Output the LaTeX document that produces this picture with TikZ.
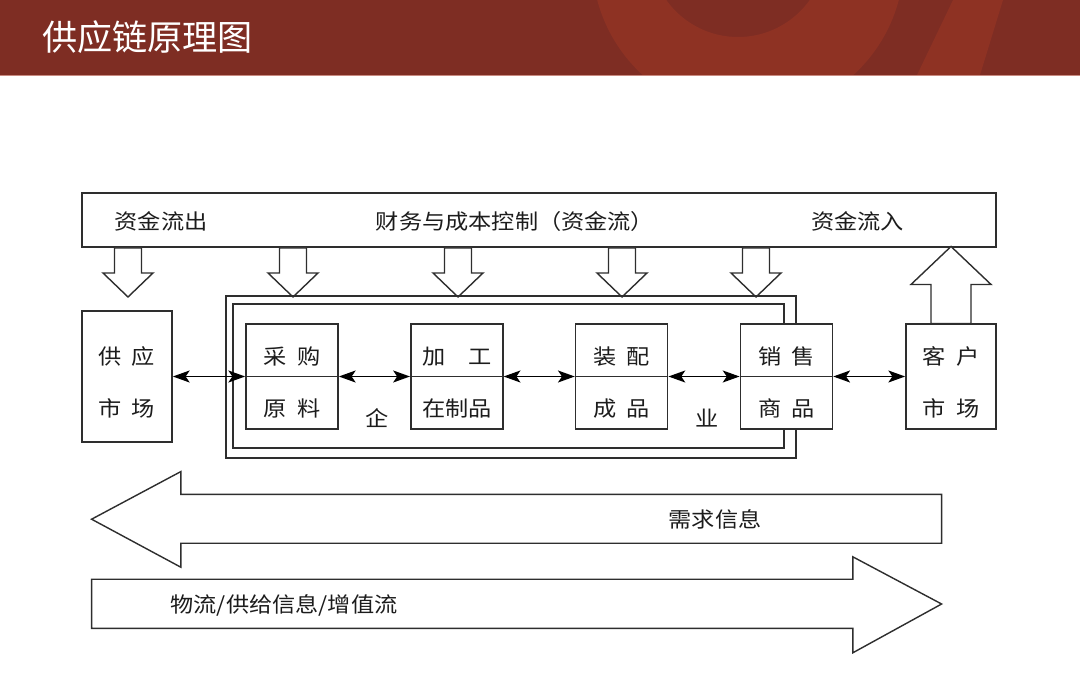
\documentclass[tikz,border=0pt]{standalone}
\usepackage{fontspec}
\usepackage{xcolor}
\usetikzlibrary{shapes, shapes.multipart, arrows.meta, calc, positioning}
\newfontfamily\fuenteCJK{Noto Sans CJK SC}[FakeStretch=1.1]
\newfontfamily\fuenteTitulo{Noto Sans CJK SC}
\newcommand{\puntal}{\rule[-0.2875cm]{0pt}{1.2625cm}}
\definecolor{rojoBarra}{HTML}{7E2D23}
\definecolor{rojoAdorno}{HTML}{8E3223}
\definecolor{rojoLinea}{HTML}{C98A80}
\definecolor{grisBorde}{HTML}{2E2E2E}
\definecolor{negroTexto}{HTML}{1C1C1C}

\begin{document}
\begin{tikzpicture}[
  % Estilos de nodos
  cajaFinanzas/.style={
    rectangle, draw=grisBorde, line width=1.2pt,
    minimum width=22.85cm, minimum height=1.35cm, inner sep=0pt
  },
  cajaEtapa/.style={
    rectangle split, rectangle split parts=2,
    draw=grisBorde, fill=white, line width=1.2pt,
    minimum width=2.3cm, inner xsep=0pt, inner ysep=0pt,
    font=\fuenteCJK\fontsize{15}{18}\selectfont, text=negroTexto
  },
  cajaMercado/.style={
    cajaEtapa, rectangle split draw splits=false, minimum width=2.25cm
  },
  texto/.style={
    font=\fuenteCJK\fontsize{15}{18}\selectfont, text=negroTexto,
    inner sep=0pt
  },
  marco/.style={
    draw=grisBorde, line width=1.2pt
  },
  % Estilos de flechas
  flechaDoble/.style={
    {Stealth[length=0.42cm, width=0.3cm, inset=0.1cm]}-{Stealth[length=0.42cm, width=0.3cm, inset=0.1cm]},
    line width=1pt, draw=black
  },
  flechaBloque/.style={
    draw=grisBorde, line width=1pt, fill=white, line join=miter
  }
]

\useasboundingbox (0,0) rectangle (27,-16.925);

% --- Barra de titulo ---
\fill[rojoBarra] (0,0) rectangle (27,-1.875);
\begin{scope}
  \clip (0,0) rectangle (27,-1.875);
  \fill[rojoAdorno, even odd rule] (18.7,1.0) circle (3.9cm) (18.45,1.275) circle (2.2cm);
  \fill[rojoAdorno] (22.925,-1.875) -- (24.5,-1.875) -- (25.075,0) -- (23.825,0) -- cycle;
\end{scope}
\draw[rojoLinea, line width=0.6pt] (0,-1.89) -- (27,-1.89);
\node[font=\fuenteTitulo\fontsize{25}{29}\selectfont, text=white, inner sep=0pt]
  (titulo) at (3.69,-0.94) {供应链原理图};

% --- Caja de finanzas ---
\node[cajaFinanzas] (finanzas) at (13.475,-5.5) {};
\node[texto] (salida)  at (4.025,-5.525)  {资金流出};
\node[texto] (control) at (12.875,-5.525) {财务与成本控制（资金流）};
\node[texto] (entrada) at (21.44,-5.525)  {资金流入};

% --- Flechas de bloque hacia abajo ---
\draw[flechaBloque] (2.8625,-6.2) -- ++(0.675,0) -- ++(0,-0.625) -- ++(0.2875,0)
  -- ++(-0.625,-0.6) -- ++(-0.625,0.6) -- ++(0.2875,0) -- cycle;
\draw[flechaBloque] (6.9875,-6.2) -- ++(0.675,0) -- ++(0,-0.625) -- ++(0.2875,0)
  -- ++(-0.625,-0.6) -- ++(-0.625,0.6) -- ++(0.2875,0) -- cycle;
\draw[flechaBloque] (11.1125,-6.2) -- ++(0.675,0) -- ++(0,-0.625) -- ++(0.2875,0)
  -- ++(-0.625,-0.6) -- ++(-0.625,0.6) -- ++(0.2875,0) -- cycle;
\draw[flechaBloque] (15.2125,-6.2) -- ++(0.675,0) -- ++(0,-0.625) -- ++(0.2875,0)
  -- ++(-0.625,-0.6) -- ++(-0.625,0.6) -- ++(0.2875,0) -- cycle;
\draw[flechaBloque] (18.5625,-6.2) -- ++(0.675,0) -- ++(0,-0.625) -- ++(0.2875,0)
  -- ++(-0.625,-0.6) -- ++(-0.625,0.6) -- ++(0.2875,0) -- cycle;

% --- Marco de la empresa ---
\draw[marco] (5.65,-7.4) rectangle (19.9,-11.45);
\draw[marco] (5.825,-7.6) rectangle (19.6,-11.2);

% --- Mercados y etapas ---
\node[cajaMercado] (mercadoProv) at (3.175,-9.4125)
  {\rule[-0.2875cm]{0pt}{1.5875cm}供\hspace{0.25cm}应\nodepart{two}\rule[-0.6125cm]{0pt}{1.5875cm}市\hspace{0.25cm}场};
\node[cajaEtapa] (compra)  at (7.3,-9.4125)   {\puntal 采\hspace{0.25cm}购\nodepart{two}\puntal 原\hspace{0.25cm}料};
\node[cajaEtapa] (proceso) at (11.42,-9.4125) {\puntal 加　工\nodepart{two}\puntal 在制品};
\node[cajaEtapa] (montaje) at (15.54,-9.4125) {\puntal 装\hspace{0.25cm}配\nodepart{two}\puntal 成\hspace{0.25cm}品};
\node[cajaEtapa] (venta)   at (19.66,-9.4125) {\puntal 销\hspace{0.25cm}售\nodepart{two}\puntal 商\hspace{0.25cm}品};
\node[cajaMercado] (cliente) at (23.775,-9.4125)
  {\puntal 客\hspace{0.25cm}户\nodepart{two}\puntal 市\hspace{0.25cm}场};

\node[texto] (empresaA) at (9.425,-10.45)  {企};
\node[texto] (empresaB) at (17.675,-10.45) {业};

% --- Flecha de bloque hacia arriba ---
\draw[flechaBloque] ([xshift=-0.5cm]cliente.north) -- ++(0,0.975) -- ++(-0.5,0)
  -- ++(1,0.95) -- ++(1,-0.95) -- ++(-0.5,0) -- ++(0,-0.975) -- cycle;

% --- Flechas dobles entre etapas ---
\draw[flechaDoble] (mercadoProv.east) -- (compra.west);
\draw[flechaDoble] (compra.east)  -- (proceso.west);
\draw[flechaDoble] (proceso.east) -- (montaje.west);
\draw[flechaDoble] (montaje.east) -- (venta.west);
\draw[flechaDoble] (venta.east)   -- (cliente.west);

% --- Flechas grandes de informacion ---
\draw[flechaBloque] (2.29,-12.98) -- (4.52,-11.79) -- (4.52,-12.36) -- (23.54,-12.36)
  -- (23.54,-13.58) -- (4.52,-13.58) -- (4.52,-14.18) -- cycle;
\node[texto] (demanda) at (17.875,-12.975) {需求信息};

\draw[flechaBloque] (2.29,-14.48) -- (21.32,-14.48) -- (21.32,-13.92) -- (23.54,-15.1)
  -- (21.32,-16.32) -- (21.32,-15.71) -- (2.29,-15.71) -- cycle;
\node[texto] (logistica) at (7.1,-15.125) {物流/供给信息/增值流};

\end{tikzpicture}
\end{document}
